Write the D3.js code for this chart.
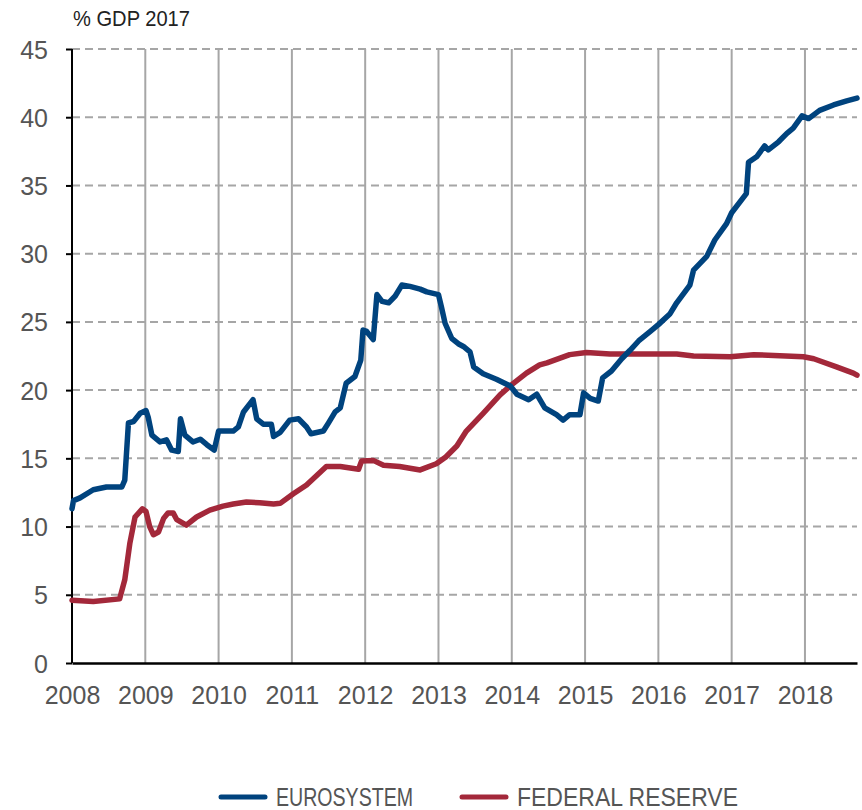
<!DOCTYPE html>
<html>
<head>
<meta charset="utf-8">
<script src="https://cdn.jsdelivr.net/npm/d3@7"></script>
<style>
  html,body{margin:0;padding:0;background:#fff;}
  svg{display:block;}
</style>
</head>
<body>
<div id="chart"></div>
<script>
// ── data ──
const euroDates = [2008.0,2008.02,2008.11,2008.29,2008.47,2008.68,2008.72,2008.77,2008.84,2008.93,2009.01,2009.04,2009.09,2009.2,2009.29,2009.36,2009.45,2009.48,2009.54,2009.65,2009.75,2009.84,2009.94,2010.0,2010.2,2010.27,2010.34,2010.47,2010.52,2010.61,2010.72,2010.75,2010.84,2010.97,2011.09,2011.2,2011.26,2011.43,2011.5,2011.59,2011.66,2011.74,2011.86,2011.94,2011.97,2012.02,2012.11,2012.16,2012.23,2012.32,2012.41,2012.5,2012.61,2012.75,2012.84,2013.0,2013.04,2013.09,2013.18,2013.27,2013.34,2013.43,2013.48,2013.61,2013.79,2013.98,2014.07,2014.23,2014.34,2014.45,2014.61,2014.7,2014.79,2014.93,2014.98,2015.07,2015.18,2015.24,2015.36,2015.5,2015.61,2015.73,2015.89,2016.0,2016.16,2016.25,2016.43,2016.48,2016.66,2016.77,2016.93,2017.0,2017.2,2017.23,2017.34,2017.45,2017.5,2017.64,2017.75,2017.84,2017.96,2018.05,2018.2,2018.39,2018.57,2018.71];
const euroValues = [11.3,11.9,12.1,12.7,12.9,12.9,13.4,17.6,17.7,18.3,18.5,18.0,16.7,16.2,16.35,15.6,15.5,17.9,16.7,16.2,16.4,16.0,15.6,17.0,17.0,17.3,18.4,19.3,17.9,17.5,17.5,16.6,16.9,17.8,17.9,17.3,16.8,17.0,17.6,18.4,18.7,20.5,21.0,22.2,24.4,24.3,23.7,27.0,26.5,26.4,26.9,27.7,27.6,27.4,27.2,27.0,26.1,24.9,23.8,23.4,23.2,22.8,21.7,21.2,20.8,20.3,19.7,19.3,19.7,18.7,18.2,17.8,18.2,18.2,19.8,19.4,19.2,20.9,21.4,22.3,22.9,23.6,24.3,24.8,25.6,26.4,27.7,28.8,29.8,31.0,32.2,33.0,34.4,36.7,37.1,37.9,37.6,38.2,38.8,39.2,40.1,39.9,40.5,40.9,41.2,41.4];

const fedDates = [2008.0,2008.29,2008.65,2008.72,2008.79,2008.86,2008.96,2009.01,2009.06,2009.11,2009.18,2009.25,2009.31,2009.38,2009.43,2009.56,2009.7,2009.88,2010.06,2010.2,2010.38,2010.56,2010.75,2010.84,2011.02,2011.2,2011.47,2011.66,2011.91,2011.95,2012.11,2012.25,2012.47,2012.75,2012.97,2013.1,2013.25,2013.38,2013.61,2013.84,2014.0,2014.2,2014.38,2014.48,2014.79,2015.02,2015.34,2015.61,2015.89,2016.25,2016.48,2016.98,2017.3,2017.98,2018.12,2018.43,2018.66,2018.71];
const fedValues = [4.6,4.5,4.7,6.1,8.8,10.7,11.3,11.1,10.0,9.4,9.6,10.6,11.0,11.0,10.5,10.1,10.7,11.2,11.5,11.65,11.8,11.75,11.65,11.7,12.4,13.05,14.4,14.4,14.2,14.8,14.85,14.5,14.4,14.15,14.6,15.1,15.9,17.0,18.3,19.65,20.4,21.25,21.85,22.0,22.6,22.75,22.65,22.65,22.65,22.65,22.5,22.45,22.6,22.45,22.3,21.7,21.25,21.1];

const yTicks = [0,5,10,15,20,25,30,35,40,45];
const xTicks = [2008,2009,2010,2011,2012,2013,2014,2015,2016,2017,2018];
const seriesNames = ["EUROSYSTEM","FEDERAL RESERVE"];
const seriesColors = ["#00437e","#a3283a"];

// ── layout ──
const W=862, H=810;
const MG={t:49,r:5,b:147,l:72};
const iW=W-MG.l-MG.r, iH=H-MG.t-MG.b;

const svg=d3.select("#chart").append("svg").attr("width",W).attr("height",H);
const g=svg.append("g").attr("transform",`translate(${MG.l},${MG.t})`);

const xSc=d3.scaleLinear().domain([2008,2018.71]).range([0,iW]);
const ySc=d3.scaleLinear().domain([0,45]).range([iH,0]);

const FONT="'Liberation Sans', Arial, sans-serif";

// vertical grid (solid)
g.append("g").selectAll("line").data(xTicks.slice(1)).join("line")
  .attr("x1",d=>xSc(d)).attr("x2",d=>xSc(d))
  .attr("y1",0).attr("y2",iH)
  .attr("stroke","#a6a6a6").attr("stroke-width",2);

// horizontal grid (dashed)
g.append("g").selectAll("line").data(yTicks.slice(1)).join("line")
  .attr("x1",0).attr("x2",iW)
  .attr("y1",d=>ySc(d)).attr("y2",d=>ySc(d))
  .attr("stroke","#a6a6a6").attr("stroke-width",2).attr("stroke-dasharray","8,5");

// y axis
const yAx=g.append("g").call(d3.axisLeft(ySc).tickValues(yTicks).tickSize(6).tickPadding(18));
yAx.select(".domain").attr("stroke","#000").attr("stroke-width",2).attr("d",`M0,${iH}V0`);
yAx.selectAll(".tick line").attr("stroke","#000").attr("stroke-width",2);
yAx.selectAll(".tick text").attr("fill","#555").attr("font-family",FONT).attr("font-size",25).attr("dy","0.36em");

// x axis
const xAx=g.append("g").attr("transform",`translate(0,${iH})`)
  .call(d3.axisBottom(xSc).tickValues(xTicks).tickFormat(d3.format("d")).tickSize(0).tickPadding(23));
xAx.select(".domain").attr("stroke","#000").attr("stroke-width",2.5);
xAx.selectAll(".tick text").attr("fill","#555").attr("font-family",FONT).attr("font-size",25);

// unit label
svg.append("text").attr("x",73).attr("y",26)
  .attr("fill","#222").attr("font-family",FONT).attr("font-size",22)
  .attr("textLength",117).attr("lengthAdjust","spacingAndGlyphs")
  .text("% GDP 2017");

// lines
const line=d3.line().x(d=>xSc(d[0])).y(d=>ySc(d[1]));
const series=[d3.zip(euroDates,euroValues), d3.zip(fedDates,fedValues)];
[1,0].forEach(i=>{
  g.append("path").datum(series[i])
    .attr("d",line).attr("fill","none")
    .attr("stroke",seriesColors[i]).attr("stroke-width",5.5)
    .attr("stroke-linejoin","round").attr("stroke-linecap","round");
});

// legend
const legX=[221,462], legW=[137,221];
seriesNames.forEach((n,i)=>{
  svg.append("line").attr("x1",legX[i]).attr("x2",legX[i]+44)
    .attr("y1",797).attr("y2",797)
    .attr("stroke",seriesColors[i]).attr("stroke-width",5).attr("stroke-linecap","round");
  svg.append("text").attr("x",legX[i]+55).attr("y",806)
    .attr("fill","#555").attr("font-family",FONT)
    .attr("font-size",25).attr("textLength",legW[i]).attr("lengthAdjust","spacingAndGlyphs")
    .text(n);
});
</script>
</body>
</html>
